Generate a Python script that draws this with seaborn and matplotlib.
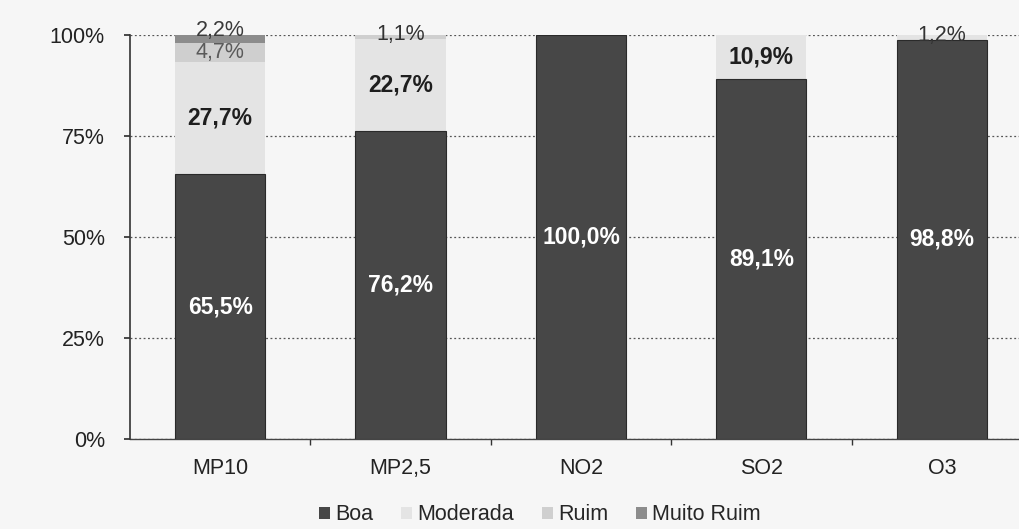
import matplotlib
matplotlib.use("Agg")
import matplotlib.pyplot as plt
import seaborn as sns
import numpy as np
import pandas as pd
from matplotlib.patches import Patch
from matplotlib.ticker import FixedLocator

categories = ["MP10", "MP2,5", "NO2", "SO2", "O3"]
boa = [65.5, 76.2, 100.0, 89.1, 98.8]
moderada = [27.7, 22.7, 0.0, 10.9, 1.2]
ruim = [4.7, 1.1, 0.0, 0.0, 0.0]
muito_ruim = [2.2, 0.0, 0.0, 0.0, 0.0]
series_names = ["Boa", "Moderada", "Ruim", "Muito Ruim"]
yticks = [0, 25, 50, 75, 100]
ytick_labels = ["0%", "25%", "50%", "75%", "100%"]

colors = ["#474747", "#e4e4e4", "#cfcfcf", "#8c8c8c"]
label_colors = ["white", "#1e1e1e", "#5a5a5a", "#3a3a3a"]

sns.set_theme(style="white")
plt.rcParams["font.family"] = ["Liberation Sans", "DejaVu Sans"]

fig = plt.figure(figsize=(10.2, 5.29), dpi=100)
fig.patch.set_facecolor("#f6f6f6")
ax = fig.add_axes([130 / 1020, (529 - 439) / 529, (1032 - 130) / 1020, (439 - 35) / 529])
ax.set_facecolor("#f6f6f6")

series = [boa, moderada, ruim, muito_ruim]
cum = np.cumsum(np.array(series), axis=0)
df = pd.DataFrame({"cat": categories})

# draw cumulative from top to bottom
for i in range(len(series) - 1, -1, -1):
    d = df.copy()
    d["val"] = cum[i]
    sns.barplot(data=d, x="cat", y="val", color=colors[i], width=0.5,
                saturation=1, edgecolor="#2a2a2a" if i == 0 else "none",
                linewidth=0.8 if i == 0 else 0, ax=ax, zorder=3)

# labels
for i, vals in enumerate(series):
    for j, v in enumerate(vals):
        if v <= 0:
            continue
        top = cum[i][j]
        txt = f"{v:.1f}%".replace(".", ",")
        if i == 3:
            ax.text(j, top - 1.6, txt, ha="center", va="bottom",
                    fontsize=15.5, color=label_colors[i], zorder=5)
        elif v < 2:
            ax.text(j, top - v / 2 + 0.6, txt, ha="center", va="center",
                    fontsize=15.5, color="#333333", zorder=5)
        else:
            ax.text(j, top - v / 2, txt, ha="center", va="center",
                    fontsize=16.5 if i < 2 else 15.5,
                    fontweight="bold" if i < 2 else "normal",
                    color=label_colors[i], zorder=5)

ax.set_xlim(-0.5, len(categories) - 0.5)
ax.set_ylim(0, 100)
ax.set_yticks(yticks)
ax.set_yticklabels(ytick_labels, fontsize=15.5, color="#222222")
ax.tick_params(axis="x", labelsize=15.5, colors="#222222", length=0, pad=14)
ax.tick_params(axis="y", length=4, direction="out", left=True, pad=14, color="#333333")
ax.xaxis.set_minor_locator(FixedLocator(np.arange(0.5, len(categories) - 0.5, 1)))
ax.tick_params(axis="x", which="minor", bottom=True, length=4, direction="out", color="#333333")
ax.set_xlabel("")
ax.set_ylabel("")
ax.yaxis.grid(True, linestyle=(0, (1.5, 2)), color="#555555", linewidth=0.9, zorder=0)
ax.xaxis.grid(False)
ax.set_axisbelow(True)
for s in ["top", "right"]:
    ax.spines[s].set_visible(False)
ax.spines["left"].set_color("#333333")
ax.spines["left"].set_linewidth(1.2)
ax.spines["bottom"].set_color("#444444")
ax.spines["bottom"].set_linewidth(1.0)
ax.spines["left"].set_zorder(6)

handles = [Patch(facecolor=c, edgecolor="none") for c in colors]
fig.legend(handles, series_names, loc="center", bbox_to_anchor=(540 / 1020, 1 - 515 / 529),
           ncol=4, frameon=False, fontsize=15.5, handlelength=0.5, handleheight=0.5,
           handletextpad=0.25, columnspacing=1.3, borderpad=0)

fig.savefig("out.png", dpi=100, facecolor=fig.get_facecolor())
